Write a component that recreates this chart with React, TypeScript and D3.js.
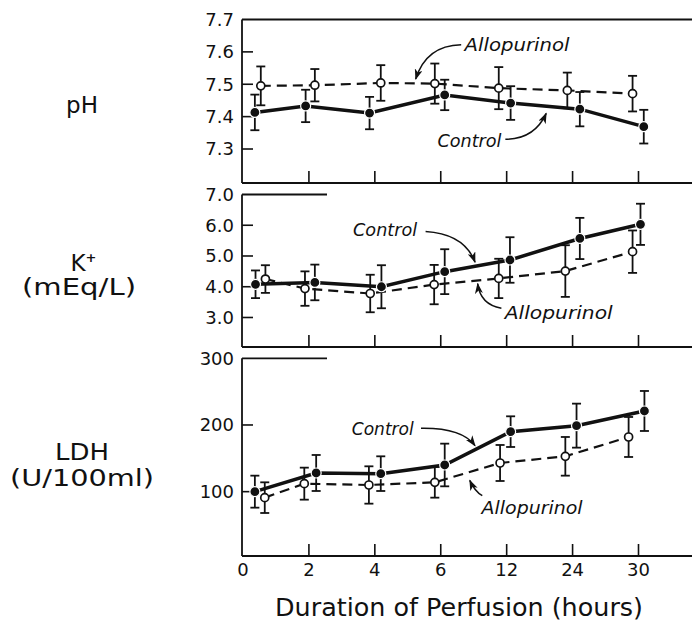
import React from "react";
import * as d3 from "d3";

// ---------- data ----------
const hours = ["0", "2", "4", "6", "12", "24", "30"];

// pH panel
const phTicks = [7.7, 7.6, 7.5, 7.4, 7.3];
const phControlX = [0.18, 0.95, 1.92, 3.06, 4.06, 5.11, 6.08];
const phControl = [7.413, 7.433, 7.411, 7.467, 7.442, 7.423, 7.369];
const phControlSE = [0.055, 0.05, 0.05, 0.047, 0.052, 0.053, 0.052];
const phAlloX = [0.27, 1.09, 2.09, 2.91, 3.88, 4.92, 5.91];
const phAllo = [7.495, 7.497, 7.504, 7.502, 7.488, 7.481, 7.471];
const phAlloSE = [0.06, 0.05, 0.055, 0.062, 0.065, 0.055, 0.055];

// K+ panel
const kTicks = [7.0, 6.0, 5.0, 4.0, 3.0];
const kControlX = [0.19, 1.09, 2.1, 3.06, 4.05, 5.11, 6.03];
const kControl = [4.08, 4.14, 4.0, 4.49, 4.87, 5.57, 6.03];
const kControlSE = [0.45, 0.58, 0.7, 0.73, 0.74, 0.67, 0.67];
const kAlloX = [0.34, 0.94, 1.93, 2.9, 3.88, 4.89, 5.91];
const kAllo = [4.25, 3.94, 3.78, 4.07, 4.27, 4.51, 5.14];
const kAlloSE = [0.45, 0.56, 0.61, 0.64, 0.64, 0.84, 0.69];

// LDH panel
const ldhTicks = [300, 200, 100];
const ldhControlX = [0.18, 1.11, 2.09, 3.06, 4.06, 5.06, 6.09];
const ldhControl = [100, 128, 127, 140, 190, 199, 221];
const ldhControlSE = [24, 27, 26, 32, 23, 33, 30];
const ldhAlloX = [0.33, 0.93, 1.91, 2.91, 3.9, 4.89, 5.85];
const ldhAllo = [91, 112, 110, 114, 143, 153, 182];
const ldhAlloSE = [23, 24, 28, 23, 27, 29, 30];

// annotations: label, text anchor (x index, y value), curve start / control / end
type Ann = { label: string; tx: number; ty: number; w: number; pts: [number, number][] };
const phNotes: Ann[] = [
  { label: "Allopurinol", tx: 3.36, ty: 7.622, w: 105, pts: [[3.31, 7.622], [2.78, 7.62], [2.62, 7.516]] },
  { label: "Control", tx: 2.95, ty: 7.324, w: 64, pts: [[3.98, 7.33], [4.42, 7.33], [4.6, 7.41]] },
];
const kNotes: Ann[] = [
  { label: "Control", tx: 1.67, ty: 5.84, w: 64, pts: [[2.77, 5.8], [3.36, 5.72], [3.52, 4.8]] },
  { label: "Allopurinol", tx: 3.97, ty: 3.14, w: 108, pts: [[3.92, 3.3], [3.6, 3.42], [3.56, 4.1]] },
];
const ldhNotes: Ann[] = [
  { label: "Control", tx: 1.65, ty: 194, w: 62, pts: [[2.7, 195], [3.32, 196], [3.52, 169]] },
  { label: "Allopurinol", tx: 3.62, ty: 76, w: 101, pts: [[3.63, 94], [3.52, 100], [3.44, 117]] },
];

// ---------- drawing ----------
const W = 692;
const H = 625;
const AXIS_X = 242;
const FONT = "'DejaVu Sans', sans-serif";
const x = d3.scaleLinear().domain([0, 6]).range([243, 638.5]);

type PanelProps = {
  domain: [number, number];
  range: [number, number];
  ticks: number[];
  fmt: (v: number) => string;
  fullTop: boolean;
  cX: number[]; c: number[]; cSE: number[];
  aX: number[]; a: number[]; aSE: number[];
  notes: Ann[];
};

function Panel(p: PanelProps) {
  const y = d3.scaleLinear().domain(p.domain).range(p.range);
  const yTop = p.range[1];
  const yBot = p.range[0];
  const line = d3.line<[number, number]>().x((d) => x(d[0])).y((d) => y(d[1]));
  const cPts: [number, number][] = p.c.map((v, i) => [p.cX[i], v]);
  const aPts: [number, number][] = p.a.map((v, i) => [p.aX[i], v]);
  const topTick = p.ticks[0];
  const err = (xs: number[], vs: number[], se: number[], key: string) =>
    vs.map((v, i) => {
      const px = x(xs[i]);
      const y1 = y(v - se[i]);
      const y2 = y(v + se[i]);
      return (
        <g key={key + i} stroke="#111" strokeWidth={1.8}>
          <line x1={px} x2={px} y1={y1} y2={y2} />
          <line x1={px - 4.5} x2={px + 4.5} y1={y1} y2={y1} />
          <line x1={px - 4.5} x2={px + 4.5} y1={y2} y2={y2} />
        </g>
      );
    });
  return (
    <g>
      {/* frame */}
      <line x1={AXIS_X} x2={AXIS_X} y1={yTop} y2={yBot} stroke="#111" strokeWidth={1.8} />
      <line x1={AXIS_X} x2={p.fullTop ? W : 327} y1={yTop} y2={yTop} stroke="#111" strokeWidth={1.8} />
      <line x1={AXIS_X} x2={W} y1={yBot} y2={yBot} stroke="#111" strokeWidth={1.8} />
      {/* x ticks */}
      {hours.slice(1).map((h, i) => (
        <line key={h} x1={x(i + 1)} x2={x(i + 1)} y1={yBot} y2={yBot - 12} stroke="#111" strokeWidth={1.6} />
      ))}
      {/* y ticks + labels */}
      {p.ticks.map((t) => (
        <g key={t}>
          {t !== topTick && (
            <line x1={AXIS_X} x2={AXIS_X + 11} y1={y(t)} y2={y(t)} stroke="#111" strokeWidth={1.6} />
          )}
          <text x={234} y={t === topTick ? yTop : y(t)} dy="0.36em" textAnchor="end" fontSize={18} fontFamily={FONT} fill="#111">
            {p.fmt(t)}
          </text>
        </g>
      ))}
      {/* series lines */}
      <path d={line(aPts) || ""} fill="none" stroke="#111" strokeWidth={2.2} strokeDasharray="10,6" />
      <path d={line(cPts) || ""} fill="none" stroke="#111" strokeWidth={3.5} />
      {err(p.aX, p.a, p.aSE, "a")}
      {err(p.cX, p.c, p.cSE, "c")}
      {aPts.map((d, i) => (
        <circle key={"ap" + i} cx={x(d[0])} cy={y(d[1])} r={4} fill="#fff" stroke="#111" strokeWidth={1.7} />
      ))}
      {cPts.map((d, i) => (
        <circle key={"cp" + i} cx={x(d[0])} cy={y(d[1])} r={5} fill="#111" stroke="#fff" strokeWidth={1.2} />
      ))}
      {/* annotations */}
      {p.notes.map((n) => {
        const [s, c, e] = n.pts;
        const d = `M${x(s[0])},${y(s[1])} Q${x(c[0])},${y(c[1])} ${x(e[0])},${y(e[1])}`;
        return (
          <g key={n.label}>
            <text x={x(n.tx)} y={y(n.ty)} dy="0.36em" fontSize={17} fontStyle="italic" fontFamily={FONT}
              textLength={n.w} lengthAdjust="spacingAndGlyphs" fill="#111">
              {n.label}
            </text>
            <path d={d} fill="none" stroke="#111" strokeWidth={1.5} markerEnd="url(#arrow)" />
          </g>
        );
      })}
    </g>
  );
}

export default function App() {
  return (
    <svg width={W} height={H} viewBox={`0 0 ${W} ${H}`} style={{ position: "absolute", left: 0, top: 0, background: "#fff" }}>
      <defs>
        <marker id="arrow" markerUnits="userSpaceOnUse" markerWidth={11} markerHeight={8} refX={10} refY={4} orient="auto">
          <path d="M0,0 L11,4 L0,8 L3,4 z" fill="#111" />
        </marker>
      </defs>
      <rect x={0} y={0} width={W} height={H} fill="#fff" />

      {/* left labels */}
      <g fontFamily={FONT} fill="#111" fontSize={23}>
        <text x={82} y={113} textAnchor="middle">pH</text>
        <text x={78} y={271} textAnchor="middle">K</text>
        <text x={91} y={262} textAnchor="middle" fontSize={13} fontWeight="bold">+</text>
        <text x={79} y={295} textAnchor="middle" textLength={114} lengthAdjust="spacingAndGlyphs">(mEq/L)</text>
        <text x={82} y={460} textAnchor="middle" textLength={54} lengthAdjust="spacingAndGlyphs">LDH</text>
        <text x={82} y={486} textAnchor="middle" textLength={144} lengthAdjust="spacingAndGlyphs">(U/100ml)</text>
      </g>

      <Panel domain={[7.195, 7.7]} range={[183, 19.5]} ticks={phTicks} fmt={(v) => v.toFixed(1)} fullTop={true}
        cX={phControlX} c={phControl} cSE={phControlSE} aX={phAlloX} a={phAllo} aSE={phAlloSE} notes={phNotes} />
      <Panel domain={[2.04, 7.0]} range={[347, 194.5]} ticks={kTicks} fmt={(v) => v.toFixed(1)} fullTop={false}
        cX={kControlX} c={kControl} cSE={kControlSE} aX={kAlloX} a={kAllo} aSE={kAlloSE} notes={kNotes} />
      <Panel domain={[3.5, 300]} range={[556, 358.3]} ticks={ldhTicks} fmt={(v) => String(v)} fullTop={false}
        cX={ldhControlX} c={ldhControl} cSE={ldhControlSE} aX={ldhAlloX} a={ldhAllo} aSE={ldhAlloSE} notes={ldhNotes} />

      {/* x tick labels */}
      {hours.map((h, i) => (
        <text key={h} x={x(i)} y={570} dy="0.36em" textAnchor="middle" fontSize={18} fontFamily={FONT} fill="#111">
          {h}
        </text>
      ))}
      <text x={459} y={616} textAnchor="middle" fontSize={24} fontFamily={FONT} fill="#111"
        textLength={368} lengthAdjust="spacingAndGlyphs">
        Duration of Perfusion (hours)
      </text>
    </svg>
  );
}
